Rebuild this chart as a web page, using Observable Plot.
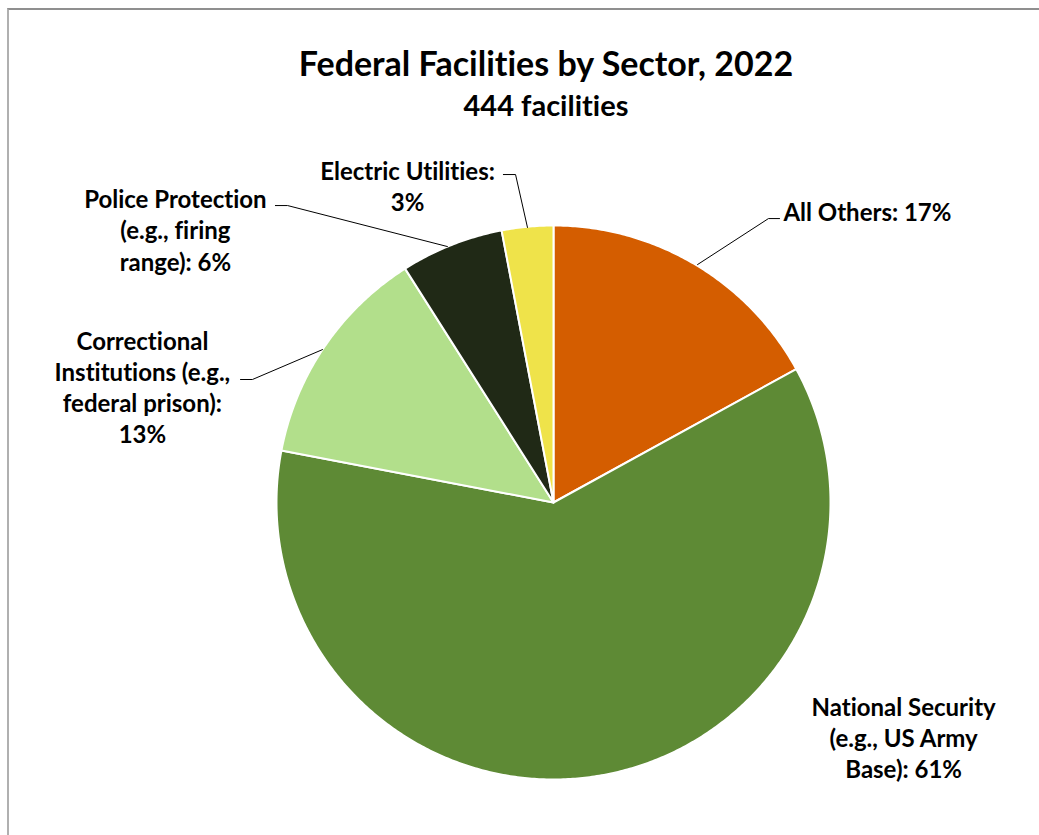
<!DOCTYPE html>
<html>
<head>
<meta charset="utf-8">
<script src="https://cdn.jsdelivr.net/npm/d3@7"></script>
<script src="https://cdn.jsdelivr.net/npm/@observablehq/plot@0.6"></script>
<style>
  html, body { margin: 0; padding: 0; background: #fff; }
  body { width: 1039px; height: 835px; position: relative; overflow: hidden; font-family: Lato, "Open Sans", sans-serif; font-variant-ligatures: none; }
  #frame { position: absolute; left: 7px; top: 8px; width: 1100px; height: 900px;
           border-left: 2px solid #b0b0b0; border-top: 2px solid #8f8f8f; box-sizing: border-box; }
  #title { position: absolute; left: 546px; top: 43px; transform: translateX(-50%); white-space: nowrap;
           font-weight: 700; font-size: 34px; line-height: 1.2; color: #000; }
  #subtitle { position: absolute; left: 546px; top: 88px; transform: translateX(-50%); white-space: nowrap;
           font-weight: 700; font-size: 29px; line-height: 1.2; color: #000; }
  #chart { position: absolute; left: 0; top: 130px; }
  #chart text { font-variant-ligatures: none; }
</style>
</head>
<body>
<div id="frame"></div>
<div id="title">Federal Facilities by Sector, 2022</div>
<div id="subtitle">444 facilities</div>
<div id="chart"></div>
<script>
// ---- data ----
const sectors = ["All Others", "National Security", "Correctional Institutions", "Police Protection", "Electric Utilities"];
const shares = [17, 61, 13, 6, 3];
const labels = [
  "All Others: 17%",
  "National Security\n(e.g., US Army\nBase): 61%",
  "Correctional\nInstitutions (e.g.,\nfederal prison):\n13%",
  "Police Protection\n(e.g., firing\nrange): 6%",
  "Electric Utilities:\n3%"
];
const colors = ["#D45D00", "#5E8A35", "#B2DF8B", "#202916", "#EFE34A"];

// ---- layout (unit-radius coordinates, y up) ----
const labelPos = [
  {x: 0.830, y: 1.053, anchor: "start"},
  {x: 1.264, y: -0.847, anchor: "middle"},
  {x: -1.484, y: 0.419, anchor: "middle"},
  {x: -1.365, y: 0.986, anchor: "middle"},
  {x: -0.527, y: 1.143, anchor: "middle"}
];
const leaders = [
  [[0.520, 0.859], [0.776, 1.025], [0.816, 1.025]],
  null,
  [[-1.130, 0.444], [-1.087, 0.444], [-0.834, 0.552]],
  [[-1.004, 1.072], [-0.960, 1.072], [-0.383, 0.924]],
  [[-0.181, 1.184], [-0.137, 1.184], [-0.094, 0.993]]
];

// ---- build pie geometry from data ----
const pie = d3.pie().sort(null).value(d => d.value).startAngle(0).endAngle(2 * Math.PI);
const rows = sectors.map((s, i) => ({name: s, value: shares[i]}));
const arcs = pie(rows);
const slicePts = [];
arcs.forEach(a => {
  const n = Math.max(2, Math.ceil((a.endAngle - a.startAngle) / (Math.PI / 360)));
  slicePts.push({name: a.data.name, x: 0, y: 0});
  for (let k = 0; k <= n; k++) {
    const t = a.startAngle + (a.endAngle - a.startAngle) * k / n;
    slicePts.push({name: a.data.name, x: Math.sin(t), y: Math.cos(t)});
  }
  slicePts.push({name: a.data.name, x: 0, y: 0});
});
const labelRows = sectors.map((s, i) => ({name: s, text: labels[i], ...labelPos[i]}));
const leaderPts = [];
leaders.forEach((l, i) => { if (l) l.forEach(p => leaderPts.push({name: sectors[i], x: p[0], y: p[1]})); });

const W = 1039, H = 705, cx = 553, cy = 372, R = 277;
const chart = Plot.plot({
  width: W, height: H,
  margin: 0,
  x: {domain: [-1, 1], range: [cx - R, cx + R], axis: null},
  y: {domain: [-1, 1], range: [cy + R, cy - R], axis: null},
  color: {domain: sectors, range: colors},
  style: {fontFamily: "Lato, 'Open Sans', sans-serif", background: "transparent", overflow: "visible"},
  marks: [
    Plot.line(slicePts, {x: "x", y: "y", z: "name", fill: "name", stroke: "#fff", strokeWidth: 2, strokeLinejoin: "round", curve: "linear"}),
    Plot.line(leaderPts, {x: "x", y: "y", z: "name", stroke: "#000", strokeWidth: 1}),
    ...labelRows.map(r => Plot.text([r], {x: "x", y: "y", text: "text", textAnchor: r.anchor, lineAnchor: "middle",
        fontSize: 24, fontWeight: 700, fill: "#000", lineHeight: 1.3}))
  ]
});
document.getElementById("chart").appendChild(chart);
</script>
</body>
</html>
